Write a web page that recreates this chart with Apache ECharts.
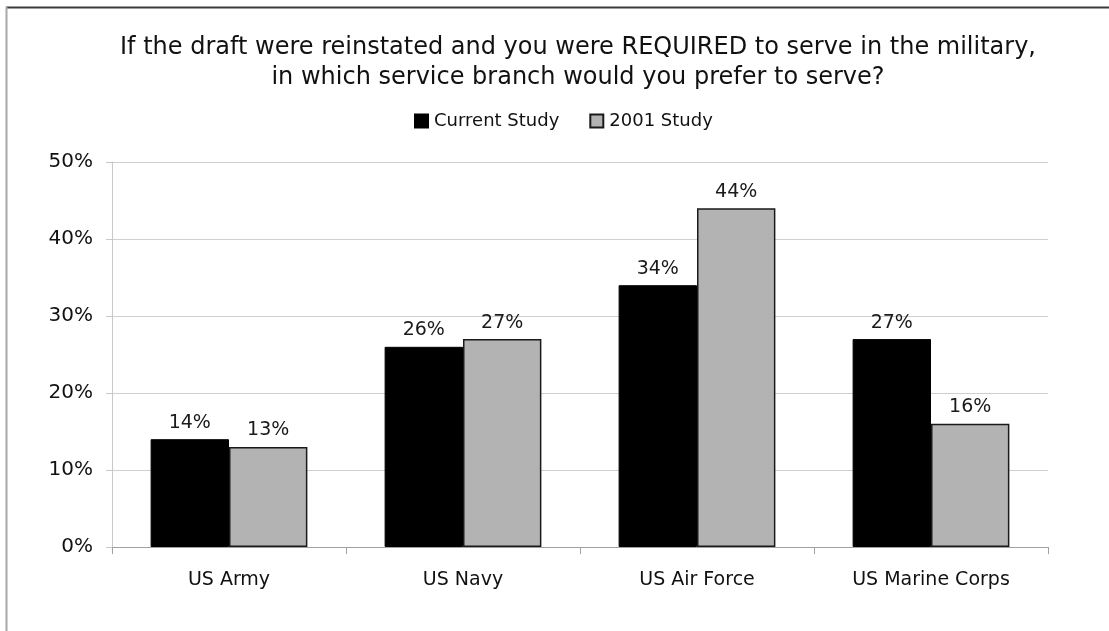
<!DOCTYPE html>
<html>
<head>
<meta charset="utf-8">
<script src="https://cdn.jsdelivr.net/npm/echarts@6/dist/echarts.min.js"></script>
<style>
  html, body { margin: 0; padding: 0; background: #fff; }
  #chart { width: 1109px; height: 631px; }
</style>
</head>
<body>
<div id="chart"></div>
<script>
// Preferred service branch if drafted, current vs. 2001 survey (percent)
const branches = ['US Army', 'US Navy', 'US Air Force', 'US Marine Corps'];
const currentStudy = [14, 26, 34, 27];
const study2001 = [13, 27, 44, 16];
const yTicks = [0, 10, 20, 30, 40, 50];

const FONT = '"DejaVu Sans", "Liberation Sans", Arial, sans-serif';

const chart = echarts.init(document.getElementById('chart'), null, { renderer: 'canvas' });

const barLabel = {
  show: true,
  position: 'top',
  distance: 7,
  formatter: p => p.value + '%',
  fontFamily: FONT,
  fontSize: 19,
  color: '#1a1a1a'
};

chart.setOption({
  backgroundColor: '#ffffff',
  animation: false,
  title: {
    text: 'If the draft were reinstated and you were REQUIRED to serve in the military,\nin which service branch would you prefer to serve?',
    left: 578,
    textAlign: 'center',
    top: 33,
    padding: 0,
    textStyle: {
      fontFamily: FONT,
      fontSize: 24,
      fontWeight: 'normal',
      color: '#111',
      lineHeight: 30
    }
  },
  legend: {
    top: 107,
    left: 409,
    itemWidth: 13,
    itemHeight: 13,
    itemGap: 30,
    icon: 'rect',
    textStyle: { fontFamily: FONT, fontSize: 18, color: '#111', padding: [0, 0, 0, 1] },
    data: ['Current Study', '2001 Study']
  },
  grid: { left: 112, right: 61, top: 162, bottom: 84, containLabel: false },
  xAxis: {
    type: 'category',
    data: branches,
    axisLine: { show: true, lineStyle: { color: '#a0a0a0', width: 1 } },
    axisTick: { show: true, length: 7, lineStyle: { color: '#a0a0a0' } },
    axisLabel: { fontFamily: FONT, fontSize: 19, color: '#111', margin: 24 }
  },
  yAxis: {
    type: 'value',
    min: yTicks[0],
    max: yTicks[yTicks.length - 1],
    interval: 10,
    axisLine: { show: true, lineStyle: { color: '#c8c8c8', width: 1 } },
    axisTick: { show: true, length: 6, lineStyle: { color: '#c8c8c8' } },
    axisLabel: {
      fontFamily: FONT, fontSize: 20, color: '#111', margin: 19,
      formatter: v => v + '%'
    },
    splitLine: { show: true, lineStyle: { color: '#cfcfcf', width: 1 } }
  },
  series: [
    {
      name: 'Current Study',
      type: 'bar',
      data: currentStudy,
      barGap: '0%',
      barCategoryGap: '33%',
      itemStyle: { color: '#000000', borderColor: '#000000', borderWidth: 1 },
      label: barLabel
    },
    {
      name: '2001 Study',
      type: 'bar',
      data: study2001,
      itemStyle: { color: '#b3b3b3', borderColor: '#1a1a1a', borderWidth: 1.5 },
      label: barLabel
    }
  ],
  graphic: [
    // frame around the chart: dark top edge, lighter left edge
    {
      type: 'line',
      shape: { x1: 6, y1: 7.5, x2: 1109, y2: 7.5 },
      style: { stroke: '#3a3a3a', lineWidth: 2 },
      silent: true
    },
    {
      type: 'line',
      shape: { x1: 6.5, y1: 7, x2: 6.5, y2: 631 },
      style: { stroke: '#a8a8a8', lineWidth: 2 },
      silent: true
    }
  ]
});
</script>
</body>
</html>
